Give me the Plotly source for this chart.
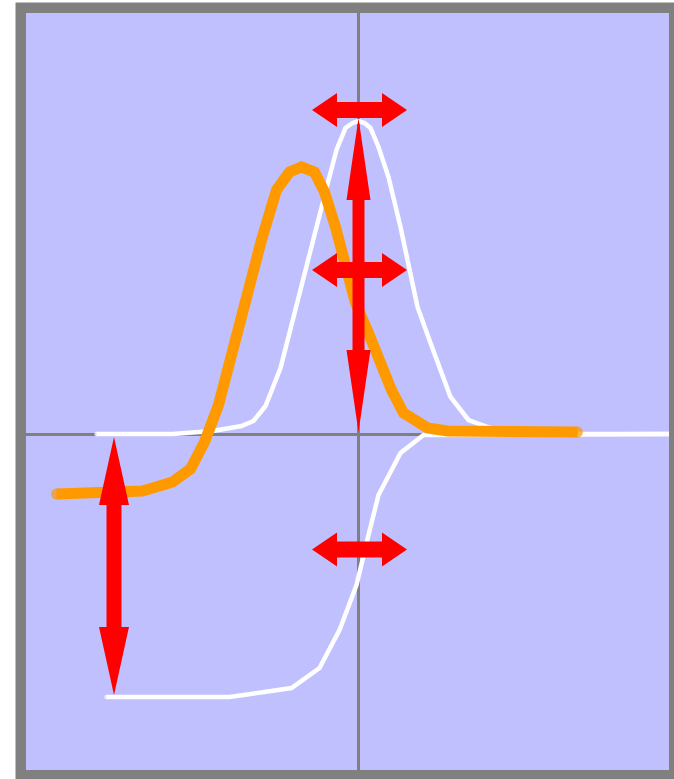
import plotly.graph_objects as go

# Gaussian peak (white)
peak_x = [-2.62, -1.86, -1.46, -1.17, -1.05, -0.93, -0.78, -0.60, -0.46, -0.32, -0.22, -0.13, -0.06, 0.0,
          0.06, 0.12, 0.20, 0.30, 0.42, 0.59, 0.72, 0.92, 1.10, 1.32, 1.72, 2.22, 3.30]
peak_y = [0.0, 0.0, 0.03, 0.08, 0.13, 0.28, 0.66, 1.38, 1.94, 2.46, 2.84, 3.06, 3.11, 3.13,
          3.11, 3.06, 2.87, 2.57, 2.07, 1.27, 0.91, 0.37, 0.14, 0.06, 0.02, 0.0, 0.0]

# Step curve (white), rising from the lower level to zero
step_x = [-2.52, -1.29, -0.67, -0.39, -0.19, -0.02, 0.10, 0.20, 0.42, 0.65, 3.30]
step_y = [-2.63, -2.63, -2.54, -2.34, -1.96, -1.51, -1.01, -0.61, -0.19, -0.01, 0.0]

# Shifted, skewed peak on an offset baseline (orange)
skew_x = [-3.02, -2.32, -2.16, -1.86, -1.68, -1.54, -1.40, -0.97, -0.82, -0.69, -0.57, -0.44,
          -0.34, -0.23, -0.13, -0.03, 0.10, 0.22, 0.33, 0.45, 0.69, 0.89, 1.32, 2.19]
skew_y = [-0.60, -0.59, -0.57, -0.48, -0.35, -0.08, 0.29, 1.94, 2.44, 2.62, 2.67, 2.62,
          2.42, 2.07, 1.71, 1.31, 1.01, 0.67, 0.44, 0.21, 0.06, 0.03, 0.02, 0.02]

# Double-headed arrows: start and end points
arrow_x0 = [-0.465, -0.465, -0.465, 0.0, -2.445]
arrow_y0 = [3.24, 1.64, -1.155, 0.02, -0.03]
arrow_x1 = [0.485, 0.485, 0.485, 0.0, -2.445]
arrow_y1 = [3.24, 1.64, -1.155, 3.16, -2.61]

# arrow geometry (shaft width, head width, head length) in axis units
ARROW_SHAFT = [0.16, 0.16, 0.16, 0.12, 0.15]
ARROW_HEAD_W = [0.34, 0.34, 0.34, 0.24, 0.30]
ARROW_HEAD_L = [0.25, 0.25, 0.25, 0.82, 0.68]

X_RANGE = [-3.325, 3.105]
Y_RANGE = [-3.36, 4.21]


def double_arrow_path(x0, y0, x1, y1, sw, hw, hl):
    dx, dy = x1 - x0, y1 - y0
    length = (dx * dx + dy * dy) ** 0.5
    ux, uy = dx / length, dy / length
    nx, ny = -uy, ux
    bx0, by0 = x0 + ux * hl, y0 + uy * hl
    bx1, by1 = x1 - ux * hl, y1 - uy * hl
    pts = [
        (x0, y0),
        (bx0 + nx * hw / 2, by0 + ny * hw / 2),
        (bx0 + nx * sw / 2, by0 + ny * sw / 2),
        (bx1 + nx * sw / 2, by1 + ny * sw / 2),
        (bx1 + nx * hw / 2, by1 + ny * hw / 2),
        (x1, y1),
        (bx1 - nx * hw / 2, by1 - ny * hw / 2),
        (bx1 - nx * sw / 2, by1 - ny * sw / 2),
        (bx0 - nx * sw / 2, by0 - ny * sw / 2),
        (bx0 - nx * hw / 2, by0 - ny * hw / 2),
    ]
    return "M " + " L ".join(f"{px:.4f},{py:.4f}" for px, py in pts) + " Z"


def curve(xs, ys, color, width):
    n = len(xs)
    sizes = [width] + [0] * (n - 2) + [width]
    return go.Scatter(
        x=xs, y=ys, mode="lines+markers",
        line=dict(color=color, width=width),
        marker=dict(size=sizes, color=color, line=dict(width=0)),
        hoverinfo="skip", showlegend=False,
    )


fig = go.Figure()
fig.add_trace(curve(peak_x, peak_y, "#FFFFFF", 4.5))
fig.add_trace(curve(step_x, step_y, "#FFFFFF", 4.5))
fig.add_trace(curve(skew_x, skew_y, "#FF9900", 11))

shapes = []
for i in range(len(arrow_x0)):
    shapes.append(dict(
        type="path", xref="x", yref="y",
        path=double_arrow_path(arrow_x0[i], arrow_y0[i], arrow_x1[i], arrow_y1[i],
                               ARROW_SHAFT[i], ARROW_HEAD_W[i], ARROW_HEAD_L[i]),
        fillcolor="#FF0000", line=dict(width=0), layer="above",
    ))

# white page strips outside the grey frame (left and top edges)
PLOT_W, PLOT_H = 643, 757
shapes.append(dict(type="rect", xref="paper", yref="paper",
                   x0=-26 / PLOT_W, x1=-10.5 / PLOT_W, y0=-0.1, y1=1.1,
                   fillcolor="#FFFFFF", line=dict(width=0), layer="above"))
shapes.append(dict(type="rect", xref="paper", yref="paper",
                   x0=-0.1, x1=1.1, y0=(770 - 2.5) / PLOT_H, y1=1.1,
                   fillcolor="#FFFFFF", line=dict(width=0), layer="above"))

axis_common = dict(
    showgrid=False, showticklabels=False, ticks="", showline=False,
    zeroline=True, zerolinecolor="#808080", zerolinewidth=2.5, fixedrange=True,
)

fig.update_layout(
    width=674, height=779, autosize=False,
    margin=dict(l=26, r=5, t=13, b=9, pad=0),
    paper_bgcolor="#808080",
    plot_bgcolor="#C0C0FF",
    xaxis=dict(range=X_RANGE, **axis_common),
    yaxis=dict(range=Y_RANGE, **axis_common),
    shapes=shapes,
    showlegend=False,
)

fig.write_html("out.html", config={"displayModeBar": False})
